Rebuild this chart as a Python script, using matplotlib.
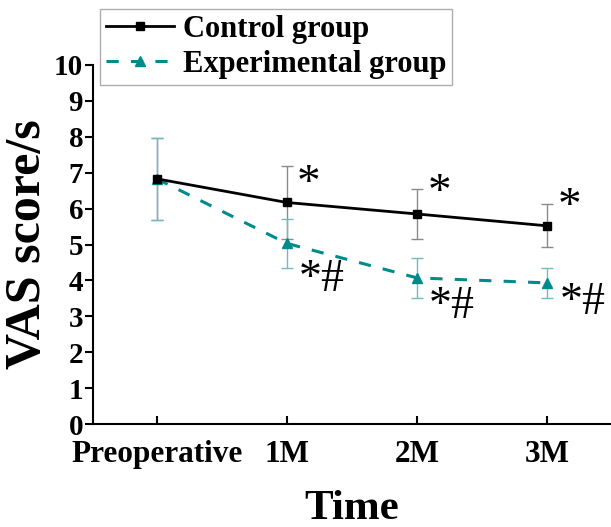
import matplotlib
matplotlib.use("Agg")
import matplotlib.pyplot as plt

# data
times = ["Preoperative", "1M", "2M", "3M"]
control = [6.83, 6.17, 5.85, 5.52]
control_sd = [1.15, 1.02, 0.70, 0.60]
exper = [6.83, 5.03, 4.07, 3.93]
exper_sd = [1.15, 0.68, 0.55, 0.41]
ctrl_marks = ["*", "*", "*"]
exp_marks = ["*#", "*#", "*#"]

plt.rcParams['font.family'] = ['Liberation Serif', 'DejaVu Serif']
plt.rcParams['font.weight'] = 'bold'

teal = '#008b8b'
x = list(range(len(times)))

fig = plt.figure(figsize=(6.11, 5.27), dpi=100)
ax = fig.add_axes([0.152, 0.1954, 0.848, 0.6813])

ax.errorbar(x, control, yerr=control_sd, fmt='none', ecolor='#8a8a8a',
            elinewidth=1, capsize=4, capthick=1, zorder=1)
ax.errorbar(x, exper, yerr=exper_sd, fmt='none', ecolor='#6fbcbc',
            elinewidth=1, capsize=4, capthick=1, zorder=1)
ax.plot(x, control, color='black', lw=2, marker='s', ms=6,
        label='Control group', zorder=3)
ax.plot(x, exper, color=teal, lw=2.2, ls=(0, (4, 4)), marker='^', ms=7,
        label='Experimental group', zorder=2)

# significance marks (offsets from the point, in data units)
ctrl_dy = [0.5, 0.55, 0.5]
exp_dy = [-1.0, -0.8, -0.55]
for i, m in enumerate(ctrl_marks):
    ax.text(i + 1.17, control[i + 1] + ctrl_dy[i], m, fontsize=34,
            fontweight='normal', ha='center', va='center')
for i, m in enumerate(exp_marks):
    ax.text(i + 1.27, exper[i + 1] + exp_dy[i], m, fontsize=33,
            fontweight='normal', ha='center', va='center')

ax.set_xlim(-0.49, 3.49)
ax.set_ylim(0, 10)
ax.set_xticks(x)
ax.set_xticklabels(times)
ax.set_yticks(range(0, 11))
ax.tick_params(axis='x', direction='in', length=6, width=1.5, labelsize=22.5, pad=11.5)
ax.tick_params(axis='y', direction='out', length=6, width=1.5, labelsize=21, pad=1)
for s in ['top', 'right']:
    ax.spines[s].set_visible(False)
for s in ['left', 'bottom']:
    ax.spines[s].set_linewidth(1.5)

ax.set_xlabel('Time', fontsize=31, fontweight='bold', labelpad=15)
ax.set_ylabel('VAS score/s', fontsize=36, fontweight='bold', labelpad=2)

leg = fig.legend(loc='upper left', bbox_to_anchor=(0.164, 0.983), fontsize=22,
                 frameon=True, fancybox=False, edgecolor='#999999',
                 handlelength=2.2, borderpad=0.2, labelspacing=0.2,
                 handletextpad=0.3, borderaxespad=0)
leg.get_frame().set_linewidth(1)

fig.savefig('out.png', dpi=100)
